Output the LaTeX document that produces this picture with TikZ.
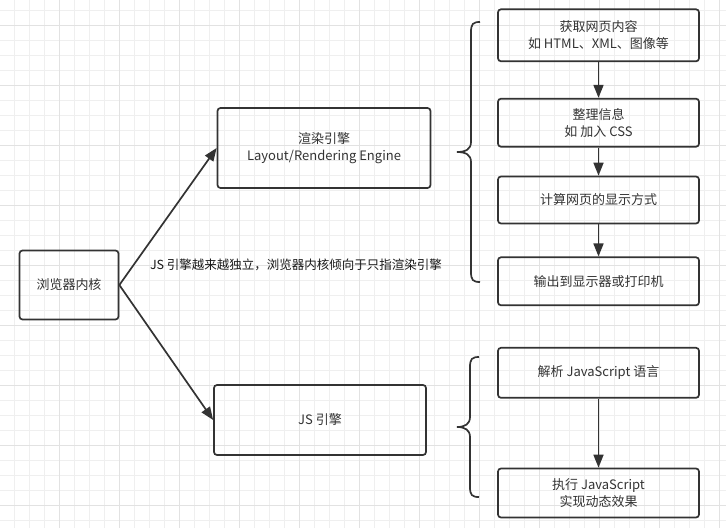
\documentclass[tikz,border=0pt]{standalone}
\usepackage{fontspec}
\setmainfont{Noto Sans CJK SC}
\usepackage{tikz}
\usetikzlibrary{arrows.meta}
\definecolor{ink}{HTML}{333333}
\definecolor{gridminor}{HTML}{EFEFEF}
\definecolor{gridmajor}{HTML}{E2E2E2}

\begin{document}
\begin{tikzpicture}[x=1pt,y=-1pt,
  box/.style={draw=ink,line width=1.7pt,rounded corners=3pt,align=center,text=ink,inner sep=0pt,font=\fontsize{13pt}{17pt}\selectfont},
  arr/.style={draw=ink,line width=1.7pt,-{Triangle[length=13pt,width=10pt]}},
  brace/.style={draw=ink,line width=1.7pt}]
\useasboundingbox (0,0) rectangle (726,528);
%\draw [help lines] (0,0) grid (726,528);
\fill[white] (0,0) rectangle (726,528);
\foreach \i in {1,...,48} \draw[gridminor,line width=1pt] (-0.7+15*\i,0) -- (-0.7+15*\i,528);
\foreach \i in {0,...,34} \draw[gridminor,line width=1pt] (0,10+15*\i) -- (726,10+15*\i);
\foreach \i in {1,...,12} \draw[gridmajor,line width=1pt] (-0.7+60*\i,0) -- (-0.7+60*\i,528);
\foreach \i in {0,...,8} \draw[gridmajor,line width=1pt] (0,25+60*\i) -- (726,25+60*\i);

\node[box,minimum width=99pt,minimum height=69pt] (core) at (69,285) {浏览器内核};
\node[box,minimum width=213pt,minimum height=80pt] (render) at (324,148) {渲染引擎\\Layout/Rendering Engine};
\node[box,minimum width=212pt,minimum height=70pt] (js) at (320,420) {JS 引擎};
\draw[arr] (core.east) -- (render.west); \draw[arr] (core.east) -- (js.west);
\node[text=black!90,font=\fontsize{12.5pt}{15pt}\selectfont] (note) at (296,265) {JS 引擎越来越独立，浏览器内核倾向于只指渲染引擎};

\node[box,minimum width=201pt,minimum height=52pt] (fetch) at (598.5,35.3) {获取网页内容\\如 HTML、XML、图像等};
\node[box,minimum width=201pt,minimum height=48pt] (tidy) at (598.5,122.7) {整理信息\\如 加入 CSS};
\node[box,minimum width=201pt,minimum height=47pt] (calc) at (598.5,200) {计算网页的显示方式};
\node[box,minimum width=201pt,minimum height=48pt] (print) at (598.5,281.3) {输出到显示器或打印机};
\draw[arr] (fetch) -- (tidy); \draw[arr] (tidy) -- (calc); \draw[arr] (calc) -- (print);

\node[box,minimum width=201pt,minimum height=50pt] (parse) at (598.5,372.8) {解析 JavaScript 语言};
\node[box,minimum width=201pt,minimum height=49pt] (run) at (598.5,493) {执行 JavaScript\\实现动态效果};
\draw[arr] (parse) -- (run);

\draw[brace] (480,22) .. controls (473,22) and (471,24) .. (471,32) -- (471,142) .. controls (471,149) and (466,152) .. (457,152) .. controls (466,152) and (471,155) .. (471,162) -- (471,272) .. controls (471,280) and (473,282) .. (480,282);
\draw[brace] (479,357) .. controls (472,357) and (470,359) .. (470,367) -- (470,417) .. controls (470,424) and (465,427) .. (457,427) .. controls (465,427) and (470,430) .. (470,437) -- (470,487) .. controls (470,495) and (472,497) .. (479,497);

\end{tikzpicture}
\end{document}
